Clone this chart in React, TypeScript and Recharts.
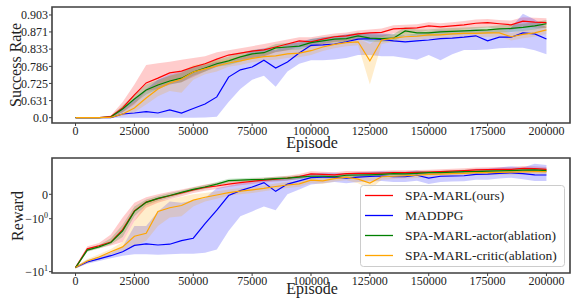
import { ComposedChart, Line, Area, XAxis, YAxis, ReferenceArea } from "recharts";

// episodes sampled every 5000
const episodes = [
  0, 5000, 10000, 15000, 20000, 25000, 30000, 35000, 40000, 45000, 50000, 55000, 60000, 65000,
  70000, 75000, 80000, 85000, 90000, 95000, 100000, 105000, 110000, 115000, 120000, 125000,
  130000, 135000, 140000, 145000, 150000, 155000, 160000, 165000, 170000, 175000, 180000,
  185000, 190000, 195000, 200000,
];
const episodeTicks = [0, 25000, 50000, 75000, 100000, 125000, 150000, 175000, 200000];

// success rate: mean and band
const rateRed = [0, 0, 0.2, 0.37, 0.563, 0.668, 0.727, 0.746, 0.765, 0.771, 0.784, 0.794, 0.807, 0.818, 0.823, 0.828, 0.831, 0.838, 0.845, 0.852, 0.85, 0.856, 0.861, 0.863, 0.867, 0.869, 0.87, 0.877, 0.878, 0.879, 0.883, 0.881, 0.883, 0.885, 0.888, 0.889, 0.887, 0.885, 0.892, 0.89, 0.889];
const rateRedLo = [0, 0, 0, 0.3, 0.5, 0.6, 0.69, 0.7, 0.72, 0.73, 0.75, 0.77, 0.785, 0.8, 0.805, 0.81, 0.815, 0.825, 0.83, 0.838, 0.838, 0.845, 0.85, 0.852, 0.856, 0.858, 0.86, 0.868, 0.868, 0.87, 0.874, 0.872, 0.874, 0.876, 0.878, 0.88, 0.877, 0.875, 0.882, 0.88, 0.879];
const rateRedHi = [0, 0, 0.3, 0.42, 0.62, 0.72, 0.79, 0.795, 0.8, 0.805, 0.81, 0.815, 0.825, 0.83, 0.835, 0.84, 0.845, 0.85, 0.855, 0.86, 0.86, 0.864, 0.868, 0.87, 0.874, 0.876, 0.878, 0.884, 0.885, 0.886, 0.89, 0.888, 0.89, 0.892, 0.895, 0.896, 0.894, 0.893, 0.899, 0.898, 0.897];

const rateBlue = [0, 0, 0, 0.25, 0.465, 0.487, 0.512, 0.487, 0.538, 0.487, 0.558, 0.603, 0.656, 0.75, 0.775, 0.784, 0.804, 0.781, 0.799, 0.823, 0.842, 0.843, 0.845, 0.85, 0.856, 0.857, 0.855, 0.852, 0.85, 0.852, 0.854, 0.857, 0.858, 0.86, 0.863, 0.852, 0.86, 0.86, 0.869, 0.867, 0.856];
const rateBlueLo = [0, 0, 0, 0, 0, 0.1, 0.1, 0.1, 0.15, 0.15, 0.2, 0.25, 0.35, 0.62, 0.7, 0.74, 0.755, 0.71, 0.77, 0.794, 0.804, 0.804, 0.806, 0.81, 0.818, 0.818, 0.815, 0.815, 0.81, 0.805, 0.818, 0.804, 0.82, 0.831, 0.831, 0.832, 0.835, 0.836, 0.836, 0.83, 0.82];
const rateBlueHi = [0, 0, 0.1, 0.35, 0.55, 0.64, 0.7, 0.74, 0.76, 0.77, 0.785, 0.79, 0.8, 0.8, 0.81, 0.83, 0.835, 0.83, 0.845, 0.85, 0.856, 0.86, 0.862, 0.866, 0.868, 0.87, 0.868, 0.866, 0.865, 0.868, 0.872, 0.874, 0.874, 0.875, 0.877, 0.875, 0.877, 0.88, 0.905, 0.895, 0.88];

const rateGreen = [0, 0, 0.15, 0.33, 0.551, 0.642, 0.695, 0.718, 0.735, 0.746, 0.768, 0.781, 0.794, 0.802, 0.813, 0.821, 0.824, 0.836, 0.838, 0.84, 0.848, 0.852, 0.856, 0.857, 0.863, 0.858, 0.857, 0.858, 0.873, 0.869, 0.869, 0.871, 0.872, 0.873, 0.874, 0.875, 0.877, 0.878, 0.88, 0.883, 0.887];
const rateGreenLo = [0, 0, 0, 0.25, 0.5, 0.61, 0.67, 0.7, 0.72, 0.73, 0.755, 0.77, 0.785, 0.79, 0.8, 0.81, 0.815, 0.826, 0.83, 0.832, 0.84, 0.845, 0.849, 0.85, 0.856, 0.85, 0.85, 0.851, 0.864, 0.862, 0.862, 0.864, 0.865, 0.866, 0.867, 0.868, 0.87, 0.871, 0.873, 0.876, 0.88];
const rateGreenHi = [0, 0, 0.25, 0.4, 0.59, 0.67, 0.72, 0.74, 0.755, 0.765, 0.785, 0.795, 0.805, 0.814, 0.824, 0.831, 0.834, 0.845, 0.847, 0.848, 0.856, 0.86, 0.863, 0.865, 0.87, 0.866, 0.865, 0.866, 0.881, 0.876, 0.876, 0.878, 0.879, 0.88, 0.881, 0.882, 0.884, 0.885, 0.887, 0.89, 0.894];

const rateOrange = [0, 0, 0.1, 0.28, 0.465, 0.563, 0.649, 0.7, 0.727, 0.743, 0.768, 0.778, 0.787, 0.796, 0.802, 0.809, 0.814, 0.816, 0.821, 0.823, 0.829, 0.838, 0.844, 0.848, 0.85, 0.802, 0.854, 0.858, 0.861, 0.862, 0.865, 0.865, 0.867, 0.868, 0.868, 0.869, 0.869, 0.861, 0.866, 0.869, 0.875];
const rateOrangeLo = [0, 0, 0, 0.2, 0.4, 0.5, 0.6, 0.66, 0.69, 0.68, 0.74, 0.76, 0.77, 0.785, 0.79, 0.798, 0.803, 0.805, 0.81, 0.812, 0.818, 0.828, 0.835, 0.84, 0.842, 0.72, 0.845, 0.85, 0.853, 0.854, 0.857, 0.857, 0.859, 0.86, 0.86, 0.861, 0.861, 0.853, 0.858, 0.861, 0.867];
const rateOrangeHi = [0, 0, 0.2, 0.35, 0.52, 0.62, 0.69, 0.73, 0.755, 0.77, 0.79, 0.795, 0.803, 0.808, 0.814, 0.82, 0.825, 0.827, 0.832, 0.834, 0.84, 0.848, 0.853, 0.856, 0.858, 0.845, 0.862, 0.866, 0.869, 0.87, 0.873, 0.873, 0.875, 0.876, 0.876, 0.877, 0.877, 0.869, 0.874, 0.877, 0.883];

// reward: mean and band
const rewRed = [-8, -2.9, -2.45, -2, -1.45, -0.68, -0.32, -0.18, -0.06, 0.06, 0.18, 0.28, 0.34, 0.42, 0.48, 0.53, 0.58, 0.62, 0.66, 0.73, 0.84, 0.82, 0.8, 0.85, 0.86, 0.86, 0.87, 0.89, 0.89, 0.9, 0.91, 0.93, 0.95, 0.97, 1.0, 1.01, 1.02, 1.02, 1.06, 1.05, 1.02];
const rewRedLo = [-8.6, -3.3, -2.8, -2.4, -2.0, -1.1, -0.55, -0.35, -0.2, -0.08, 0.05, 0.15, 0.22, 0.3, 0.37, 0.42, 0.48, 0.52, 0.56, 0.63, 0.74, 0.72, 0.7, 0.75, 0.76, 0.76, 0.77, 0.79, 0.79, 0.8, 0.81, 0.83, 0.85, 0.87, 0.9, 0.91, 0.92, 0.92, 0.96, 0.95, 0.92];
const rewRedHi = [-7.4, -2.5, -2.1, -1.65, -0.95, -0.35, -0.12, 0, 0.1, 0.2, 0.3, 0.4, 0.46, 0.54, 0.6, 0.64, 0.68, 0.72, 0.76, 0.83, 0.94, 0.92, 0.9, 0.95, 0.96, 0.96, 0.97, 0.99, 0.99, 1.0, 1.01, 1.03, 1.05, 1.07, 1.1, 1.11, 1.12, 1.12, 1.16, 1.15, 1.12];

const rewBlue = [-8, -5.9, -5.0, -4.2, -3.4, -2.4, -2.2, -2.35, -2.25, -1.9, -1.8, -1.2, -0.65, -0.05, 0.15, 0.3, 0.48, 0.12, 0.42, 0.55, 0.68, 0.7, 0.7, 0.66, 0.7, 0.73, 0.75, 0.72, 0.72, 0.78, 0.66, 0.74, 0.75, 0.76, 0.82, 0.83, 0.86, 0.88, 0.85, 0.8, 0.79];
const rewBlueLo = [-8.4, -6.5, -5.6, -4.8, -4.2, -3.9, -3.9, -4.0, -3.9, -3.8, -3.8, -3.6, -3.0, -1.5, -0.9, -0.7, -0.5, -0.65, 0, 0.2, 0.4, 0.45, 0.5, 0.45, 0.5, 0.52, 0.55, 0.5, 0.5, 0.56, 0.42, 0.5, 0.52, 0.53, 0.6, 0.6, 0.65, 0.68, 0.62, 0.55, 0.55];
const rewBlueHi = [-7.6, -5.3, -4.4, -3.6, -2.6, -1.3, -1.3, -0.7, -0.3, -0.35, -0.25, -0.15, 0.25, 0.35, 0.45, 0.5, 0.6, 0.6, 0.65, 0.75, 0.85, 0.88, 0.88, 0.85, 0.9, 0.92, 0.94, 0.92, 0.92, 0.98, 0.9, 0.95, 0.96, 0.98, 1.05, 1.06, 1.1, 1.15, 1.1, 1.25, 1.2];

const rewGreen = [-8, -3.1, -2.6, -2.05, -1.5, -0.7, -0.33, -0.17, -0.05, 0.08, 0.2, 0.3, 0.42, 0.56, 0.58, 0.6, 0.61, 0.64, 0.66, 0.7, 0.74, 0.74, 0.72, 0.78, 0.79, 0.8, 0.82, 0.85, 0.84, 0.86, 0.89, 0.89, 0.91, 0.93, 0.93, 0.95, 0.96, 0.97, 0.99, 1.0, 0.97];
const rewGreenLo = [-8.5, -3.4, -2.85, -2.3, -1.75, -0.9, -0.45, -0.27, -0.14, 0, 0.12, 0.22, 0.34, 0.48, 0.5, 0.52, 0.53, 0.56, 0.58, 0.62, 0.66, 0.66, 0.64, 0.7, 0.71, 0.72, 0.74, 0.77, 0.76, 0.78, 0.81, 0.81, 0.83, 0.85, 0.85, 0.87, 0.88, 0.89, 0.91, 0.92, 0.89];
const rewGreenHi = [-7.5, -2.8, -2.35, -1.8, -1.25, -0.5, -0.21, -0.07, 0.05, 0.16, 0.28, 0.38, 0.5, 0.64, 0.66, 0.68, 0.69, 0.72, 0.74, 0.78, 0.82, 0.82, 0.8, 0.86, 0.87, 0.88, 0.9, 0.93, 0.92, 0.94, 0.97, 0.97, 0.99, 1.01, 1.01, 1.03, 1.04, 1.05, 1.07, 1.08, 1.05];

const rewOrange = [-8, -5.6, -4.5, -3.4, -2.6, -1.72, -1.6, -0.7, -0.55, -0.46, -0.24, -0.12, -0.03, 0.07, 0.13, 0.18, 0.24, 0.32, 0.38, 0.43, 0.58, 0.55, 0.64, 0.7, 0.62, 0.46, 0.72, 0.74, 0.76, 0.78, 0.82, 0.83, 0.85, 0.86, 0.89, 0.89, 0.9, 0.91, 0.92, 0.93, 0.93];
const rewOrangeLo = [-8.5, -6.3, -5.2, -4.0, -3.2, -2.5, -1.9, -1.3, -0.95, -0.9, -0.5, -0.3, -0.18, -0.06, 0, 0.05, 0.12, 0.2, 0.26, 0.31, 0.45, 0.42, 0.52, 0.58, 0.45, 0.2, 0.6, 0.63, 0.65, 0.67, 0.71, 0.72, 0.74, 0.75, 0.78, 0.78, 0.79, 0.8, 0.81, 0.82, 0.82];
const rewOrangeHi = [-7.5, -5.0, -3.9, -2.9, -2.0, -1.1, -0.3, -0.25, -0.2, -0.1, 0, 0.05, 0.12, 0.2, 0.26, 0.31, 0.36, 0.44, 0.5, 0.55, 0.7, 0.68, 0.76, 0.82, 0.78, 0.72, 0.84, 0.86, 0.88, 0.9, 0.94, 0.95, 0.97, 0.98, 1.01, 1.01, 1.02, 1.03, 1.04, 1.05, 1.05];

const rateTickLabels = ["0.0", "0.631", "0.725", "0.786", "0.833", "0.871", "0.903"];
const rewardTickValues = [-10, -1, 0];
const rewardTickLabels = [["\u221210", "1"], ["\u221210", "0"], ["0", ""]];

const seriesKeys = ["red", "blue", "green", "orange"];
const seriesNames = ["SPA-MARL(ours)", "MADDPG", "SPA-MARL-actor(ablation)", "SPA-MARL-critic(ablation)"];
const seriesColors = ["#ff0000", "#0000ff", "#008000", "#ffa500"];

const FONT = "'Liberation Serif', 'Times New Roman', serif";
const INK = "#222";
const SPINE = "#3f3f3f";

// y axis of success rate is linear in rate^5
const pow5 = (v: number) => Math.pow(v, 5);
// symmetric log, base 10
const LINTHRESH = 1.93;
const LINSCALE = 1 / (1 - 1 / 10);
function symlog(v: number) {
  const a = Math.abs(v);
  const t = a <= LINTHRESH ? a * LINSCALE : LINTHRESH * (LINSCALE + Math.log10(a / LINTHRESH));
  return Math.sign(v) * t;
}

const rateTicks = rateTickLabels.map((l) => pow5(parseFloat(l)));
const rewardTicks = rewardTickValues.map(symlog);

function buildRows(groups: number[][][], f: (v: number) => number) {
  return episodes.map((ep, i) => {
    const row: Record<string, any> = { ep };
    seriesKeys.forEach((k, s) => {
      const [m, lo, hi] = groups[s];
      row[k] = f(m[i]);
      row[k + "Band"] = [f(lo[i]), f(hi[i])];
    });
    return row;
  });
}

const rateRows = buildRows(
  [
    [rateRed, rateRedLo, rateRedHi],
    [rateBlue, rateBlueLo, rateBlueHi],
    [rateGreen, rateGreenLo, rateGreenHi],
    [rateOrange, rateOrangeLo, rateOrangeHi],
  ],
  pow5
);
const rewardRows = buildRows(
  [
    [rewRed, rewRedLo, rewRedHi],
    [rewBlue, rewBlueLo, rewBlueHi],
    [rewGreen, rewGreenLo, rewGreenHi],
    [rewOrange, rewOrangeLo, rewOrangeHi],
  ],
  symlog
);

const RATE_DOMAIN: [number, number] = [-0.031, 0.647];
const REWARD_DOMAIN: [number, number] = [-3.584, 1.653];
const X_DOMAIN: [number, number] = [-10000, 210000];

function bands() {
  return seriesKeys.map((k, s) => (
    <Area
      key={k + "b"}
      dataKey={k + "Band"}
      type="linear"
      stroke="none"
      fill={seriesColors[s]}
      fillOpacity={0.2}
      isAnimationActive={false}
      activeDot={false}
    />
  ));
}

function lines() {
  return seriesKeys.map((k, s) => (
    <Line
      key={k}
      dataKey={k}
      type="linear"
      stroke={seriesColors[s]}
      strokeWidth={1.2}
      dot={false}
      activeDot={false}
      isAnimationActive={false}
    />
  ));
}

const tickStyle = { fontSize: 12, fill: INK, fontFamily: FONT };

function RewardTick(props: any) {
  const { x, y, payload } = props;
  const i = rewardTicks.findIndex((t) => Math.abs(t - payload.value) < 1e-6);
  const [base, sup] = rewardTickLabels[i] || ["", ""];
  return (
    <text x={x} y={y} dy="0.36em" textAnchor="end" fontSize={12} fill={INK} style={{ fontFamily: FONT }}>
      {base}
      {sup && (
        <tspan dy={-5} fontSize={8}>
          {sup}
        </tspan>
      )}
    </text>
  );
}

function xAxis(height: number) {
  return (
    <XAxis
      dataKey="ep"
      type="number"
      domain={X_DOMAIN}
      ticks={episodeTicks}
      interval={0}
      height={height}
      axisLine={false}
      tickLine={{ stroke: SPINE }}
      tickSize={3}
      tickMargin={0}
      tick={tickStyle}
      allowDataOverflow
    />
  );
}

export default function App() {
  return (
    <div
      style={{
        position: "absolute",
        left: 0,
        top: 0,
        width: 571,
        height: 302,
        background: "#fff",
        overflow: "hidden",
        fontFamily: FONT,
      }}
    >
      <div style={{ position: "absolute", left: 0, top: 0 }}>
        <ComposedChart width={571} height={150} data={rateRows} margin={{ top: 7, right: 1, left: 0, bottom: 0 }}>
          {xAxis(27)}
          <YAxis
            type="number"
            domain={RATE_DOMAIN}
            ticks={rateTicks}
            interval={0}
            width={52}
            axisLine={false}
            tickLine={{ stroke: SPINE }}
            tickSize={3}
            tickMargin={1}
            tick={tickStyle}
            tickFormatter={(v: number) => rateTickLabels[rateTicks.findIndex((t) => Math.abs(t - v) < 1e-9)] ?? ""}
            allowDataOverflow
          />
          {bands()}
          {lines()}
          <ReferenceArea x1={X_DOMAIN[0]} x2={X_DOMAIN[1]} y1={RATE_DOMAIN[0]} y2={RATE_DOMAIN[1]} fill="none" stroke={SPINE} strokeWidth={1.6} />
        </ComposedChart>
      </div>
      <div style={{ position: "absolute", left: 0, top: 150 }}>
        <ComposedChart width={571} height={152} data={rewardRows} margin={{ top: 8, right: 1, left: 0, bottom: 0 }}>
          {xAxis(29)}
          <YAxis
            type="number"
            domain={REWARD_DOMAIN}
            ticks={rewardTicks}
            interval={0}
            width={52}
            axisLine={false}
            tickLine={{ stroke: SPINE }}
            tickSize={3}
            tickMargin={1}
            tick={<RewardTick />}
            allowDataOverflow
          />
          {bands()}
          {lines()}
          <ReferenceArea x1={X_DOMAIN[0]} x2={X_DOMAIN[1]} y1={REWARD_DOMAIN[0]} y2={REWARD_DOMAIN[1]} fill="none" stroke={SPINE} strokeWidth={1.6} />
        </ComposedChart>
      </div>
      <svg width={571} height={302} style={{ position: "absolute", left: 0, top: 0, pointerEvents: "none", fontFamily: FONT }}>
        <text transform="translate(20.5,65) rotate(-90)" textAnchor="middle" fontSize={16} fill={INK}>
          Success Rate
        </text>
        <text transform="translate(22.5,216) rotate(-90)" textAnchor="middle" fontSize={16} fill={INK}>
          Reward
        </text>
        <text x={312} y={148} textAnchor="middle" fontSize={16} fill={INK}>
          Episode
        </text>
        <text x={312} y={294} textAnchor="middle" fontSize={16} fill={INK}>
          Episode
        </text>
        <g>
          <rect x={360.5} y={185.5} width={204} height={81} rx={3} fill="#fff" fillOpacity={0.8} stroke="#cccccc" strokeWidth={1} />
          {seriesNames.map((n, s) => (
            <g key={n}>
              <line x1={365} x2={393} y1={195.5 + s * 20} y2={195.5 + s * 20} stroke={seriesColors[s]} strokeWidth={1.3} />
              <text x={405} y={195.5 + s * 20} dy="0.33em" fontSize={13.5} fill={INK}>
                {n}
              </text>
            </g>
          ))}
        </g>
      </svg>
    </div>
  );
}
